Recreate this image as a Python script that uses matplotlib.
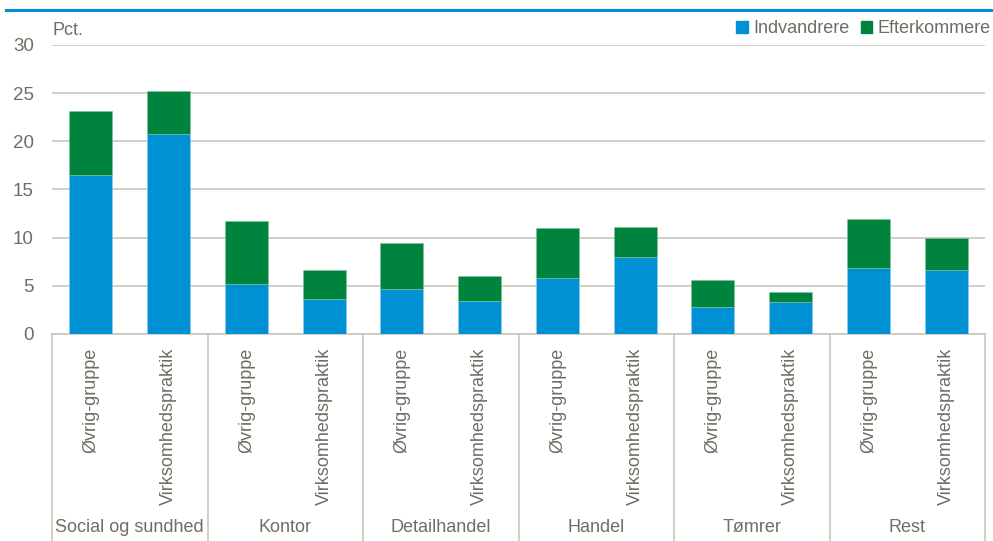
import matplotlib.pyplot as plt
from matplotlib import font_manager
from matplotlib.patches import Patch
import matplotlib.transforms as mtransforms

# Narrow font if available, otherwise plain Liberation Sans
names = {f.name for f in font_manager.fontManager.ttflist}
if "Liberation Sans Narrow" in names:
    plt.rcParams["font.family"] = ["Liberation Sans Narrow", "DejaVu Sans"]
    fs = 15
else:
    plt.rcParams["font.family"] = ["Liberation Sans", "DejaVu Sans"]
    fs = 13

# Data
groups = ["Social og sundhed", "Kontor", "Detailhandel", "Handel", "Tømrer", "Rest"]
sub_labels = ["Øvrig-gruppe", "Virksomhedspraktik"]
indvandrere = [16.5, 20.8, 5.15, 3.6, 4.65, 3.45, 5.85, 8.0, 2.8, 3.3, 6.9, 6.65]
efterkommere = [6.7, 4.45, 6.55, 3.0, 4.75, 2.6, 5.2, 3.1, 2.85, 1.05, 5.0, 3.3]

blue = "#0091D5"
green = "#00843D"
txt = "#6E6E64"
grid = "#C8C8BE"

fig = plt.figure(figsize=(9.93, 5.41), dpi=100)
ax = fig.add_axes([52 / 993, (541 - 334) / 541, (985 - 52) / 993, 289 / 541])

x = list(range(len(indvandrere)))
ax.bar(x, indvandrere, width=0.55, color=blue, edgecolor="#8FD0EE", linewidth=0.4, zorder=3)
ax.bar(x, efterkommere, bottom=indvandrere, width=0.55, color=green,
       edgecolor="#7FC29E", linewidth=0.4, zorder=3)

ax.set_xlim(-0.5, len(x) - 0.5)
ax.set_ylim(0, 30)
ax.set_yticks(range(0, 31, 5))
ax.yaxis.grid(True, color=grid, linewidth=1.2, zorder=0)
ax.tick_params(axis="y", length=0, pad=13, labelsize=fs + 0.5, labelcolor=txt)
ax.tick_params(axis="x", length=0, pad=10, labelsize=fs, labelcolor=txt)
for s in ["top", "right", "left"]:
    ax.spines[s].set_visible(False)
ax.spines["bottom"].set_color(grid)
ax.spines["bottom"].set_linewidth(1.2)

ax.set_xticks(x)
ax.set_xticklabels(sub_labels * len(groups), rotation=90, va="top", ha="center")

# Group separators and group names below the tick labels
trans = mtransforms.blended_transform_factory(ax.transData, fig.transFigure)
for i in range(len(groups) + 1):
    xs = i * 2 - 0.5
    ax.plot([xs, xs], [(541 - 334) / 541, 0], transform=trans, color=grid,
            linewidth=1.2, clip_on=False)
for i, g in enumerate(groups):
    ax.text(i * 2 + 0.5, (541 - 527) / 541, g, transform=trans, ha="center",
            va="center", fontsize=fs, color=txt)

ax.text(-0.5, 30.6, "Pct.", fontsize=fs, color=txt, ha="left", va="bottom")

# Blue rule along the top
fig.add_artist(plt.Line2D([6 / 993, 1], [1 - 10 / 541, 1 - 10 / 541],
                          color=blue, linewidth=2.2))

handles = [Patch(color=blue, label="Indvandrere"), Patch(color=green, label="Efterkommere")]
fig.legend(handles=handles, loc="upper right", bbox_to_anchor=(991 / 993, 1 - 20 / 541),
           ncol=2, frameon=False, fontsize=fs, labelcolor=txt, handlelength=0.65,
           handleheight=0.65, handletextpad=0.3, columnspacing=0.6, borderaxespad=0,
           borderpad=0)

fig.savefig("out.png", dpi=100)
